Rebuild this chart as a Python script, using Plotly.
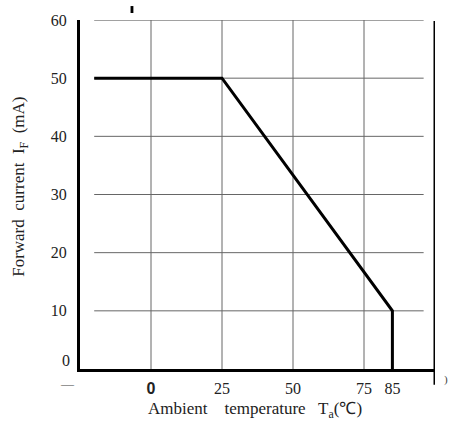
import plotly.graph_objects as go

# Derating curve: forward current vs ambient temperature
temp_c = [-20, 25, 85, 85]
current_ma = [50, 50, 10, 0]

x_tick_vals = [0, 25, 50, 75, 85]
x_tick_text = ["<span style='font-family:Liberation Sans'><b>0</b></span>", "25", "50", "75", "85"]
y_tick_vals = [10, 20, 30, 40, 50, 60]
y_tick_text = ["10", "20", "30", "40", "50", "60"]

grid_x = [0, 25, 50, 75]
grid_y = [10, 20, 30, 40, 50, 60]
grid_x_span = (-20, 96)
grid_y_span = (0, 60)

serif = "Liberation Serif"
ink = "#222"

fig = go.Figure()

shapes = []
for gy in grid_y:
    shapes.append(dict(type="line", xref="x", yref="y",
                       x0=grid_x_span[0], x1=grid_x_span[1], y0=gy, y1=gy,
                       line=dict(color="#444" if gy == 60 else "#666", width=1), layer="below"))
for gx in grid_x:
    shapes.append(dict(type="line", xref="x", yref="y",
                       x0=gx, x1=gx, y0=grid_y_span[0], y1=grid_y_span[1],
                       line=dict(color="#666", width=1), layer="below"))
# right-hand frame bar
shapes.append(dict(type="line", xref="x", yref="paper", x0=100, x1=100, y0=-0.045, y1=0.997,
                   line=dict(color="black", width=3)))
# small mark above the frame
shapes.append(dict(type="rect", xref="x", yref="paper", x0=-7.2, x1=-6.2, y0=1.02, y1=1.04,
                   line=dict(width=0), fillcolor="black"))

fig.add_trace(go.Scatter(x=temp_c, y=current_ma, mode="lines",
                         line=dict(color="black", width=3), hoverinfo="skip", showlegend=False))

fig.update_layout(
    width=449, height=421,
    margin=dict(l=80, r=14, t=13, b=52),
    paper_bgcolor="white", plot_bgcolor="white",
    font=dict(family=serif, size=16, color=ink),
    shapes=shapes,
    xaxis=dict(range=[-25, 100], showgrid=False, zeroline=False,
               showline=True, linewidth=3, linecolor="black",
               tickmode="array", tickvals=x_tick_vals, ticktext=x_tick_text,
               ticks="", ticklabelstandoff=3, tickfont=dict(family=serif, size=16, color=ink)),
    yaxis=dict(range=[0, 60], showgrid=False, zeroline=False,
               showline=True, linewidth=3, linecolor="black",
               tickmode="array", tickvals=y_tick_vals, ticktext=y_tick_text,
               ticks="", ticklabelstandoff=7, tickfont=dict(family=serif, size=16, color=ink)),
    annotations=[
        # zero label of the current axis, sitting slightly above the baseline
        dict(text="0", xref="paper", yref="paper", x=-0.022, y=0.025, showarrow=False,
             font=dict(family=serif, size=16, color=ink), xanchor="right", yanchor="middle"),
        dict(text="Ambient&nbsp;&nbsp;&nbsp; temperature&nbsp;&nbsp; T<sub>a</sub>(℃)",
             xref="paper", yref="paper", x=0.493, y=-0.118, showarrow=False,
             font=dict(family=serif, size=17, color=ink), xanchor="center", yanchor="middle"),
        dict(text="Forward&nbsp; current&nbsp; I<sub>F</sub>&nbsp; (mA)",
             xref="paper", yref="paper", x=-0.169, y=0.522, showarrow=False, textangle=-90,
             font=dict(family=serif, size=17, color=ink), xanchor="center", yanchor="middle"),
        dict(text="—", xref="paper", yref="paper", x=-0.034, y=-0.042, showarrow=False,
             font=dict(family=serif, size=13, color="#444"), xanchor="center", yanchor="middle"),
        dict(text=")", xref="paper", yref="paper", x=1.031, y=-0.031, showarrow=False,
             font=dict(family=serif, size=11, color="#444"), xanchor="center", yanchor="middle"),
    ],
)

fig.write_html("out.html")
